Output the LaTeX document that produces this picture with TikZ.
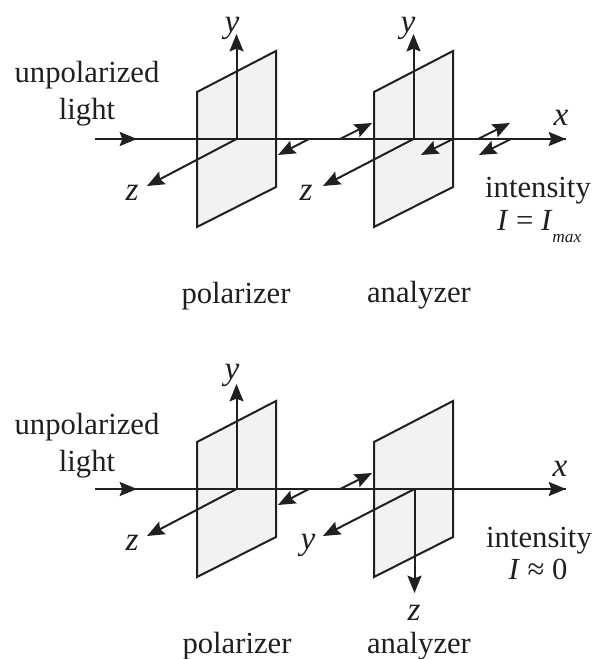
\documentclass[tikz,border=0pt]{standalone}
\usepackage{fontspec}
\setmainfont{Liberation Serif}
\usetikzlibrary{arrows.meta}
\definecolor{cline}{HTML}{231F20}
\definecolor{cplane}{HTML}{F1F3F2}
\tikzset{
  every picture/.style={line width=1.5pt},
  plane/.style={draw=cline, fill=cplane, line join=miter},
  axis/.style={draw=cline, line width=1.4pt},
  arrow/.style={-{Stealth[length=13pt, width=10.5pt, inset=2pt]}, draw=cline, line width=1.5pt},
  label/.style={font=\fontsize{23}{28}\selectfont, text=cline, inner sep=0pt, align=center, yshift=-2pt},
  axlabel/.style={label, font=\fontsize{25}{28}\selectfont\itshape, yshift=-0.5pt},
}

\begin{document}
\begin{tikzpicture}[x=0.75pt, y=-0.75pt]
  \useasboundingbox (0, 0) rectangle (595, 659);
  % top: analyzer parallel to polarizer
  \coordinate (tstart) at (95, 139);
  \coordinate (tmid) at (137, 139);
  \coordinate (tend) at (566, 139);
  \coordinate (to1) at (236.5, 139);
  \coordinate (ty1) at (236.5, 34);
  \coordinate (tz1) at (147, 186);
  \coordinate (to2) at (413.5, 139);
  \coordinate (ty2) at (413.5, 34);
  \coordinate (tz2) at (323, 186);
  \draw[plane] (197, 92) -- (276, 51) -- (276, 187) -- (197, 227) -- cycle;
  \draw[plane] (374, 92) -- (453, 51) -- (453, 187) -- (374, 227) -- cycle;
  \draw[axis] (tstart) -- (tend);
  \draw[arrow] (tstart) -- (tmid);
  \draw[arrow] (tmid) -- (tend);
  \draw[arrow] (to1) -- (ty1);
  \draw[arrow] (to1) -- (tz1);
  \draw[arrow] (to2) -- (ty2);
  \draw[arrow] (to2) -- (tz2);
  \draw[arrow] (309, 139) coordinate (ta1) -- (278, 155) coordinate (ta2);
  \draw[arrow] (340, 139) coordinate (ta3) -- (372, 123) coordinate (ta4);
  \draw[arrow] (453, 139) coordinate (ta5) -- (421, 155) coordinate (ta6);
  \draw[arrow] (478, 139) coordinate (ta7) -- (510, 123) coordinate (ta8);
  \draw[arrow] (511, 139) coordinate (ta9) -- (479, 155) coordinate (ta10);
  \node[label] (tlight) at (87, 91) {unpolarized\\light};
  \node[axlabel] (tyl1) at (232, 25) {y};
  \node[axlabel] (tzl1) at (132, 190) {z};
  \node[axlabel] (tyl2) at (408, 25) {y};
  \node[axlabel] (tzl2) at (306, 190) {z};
  \node[axlabel] (txl) at (561, 115) {x};
  \node[label] (tint) at (538, 188) {intensity};
  \node[label, anchor=west] (tform) at (496, 224) {\textit{I} = \textit{I}\raisebox{-9pt}{\fontsize{13}{13}\selectfont\textit{max}}};
  \node[label] (tpol) at (236, 293) {polarizer};
  \node[label] (tana) at (419, 293) {analyzer};
  % bottom: analyzer crossed with polarizer
  \coordinate (bstart) at (95, 489);
  \coordinate (bmid) at (137, 489);
  \coordinate (bend) at (566, 489);
  \coordinate (bo1) at (236.5, 489);
  \coordinate (by1) at (236.5, 384);
  \coordinate (bz1) at (147, 536);
  \coordinate (bo2) at (414.5, 489);
  \coordinate (by2) at (323, 536);
  \coordinate (bz2) at (414.5, 593);
  \draw[plane] (197, 442) -- (276, 401) -- (276, 537) -- (197, 577) -- cycle;
  \draw[plane] (374, 442) -- (453, 401) -- (453, 537) -- (374, 577) -- cycle;
  \draw[axis] (bstart) -- (bend);
  \draw[arrow] (bstart) -- (bmid);
  \draw[arrow] (bmid) -- (bend);
  \draw[arrow] (bo1) -- (by1);
  \draw[arrow] (bo1) -- (bz1);
  \draw[arrow] (bo2) -- (by2);
  \draw[arrow] (bo2) -- (bz2);
  \draw[arrow] (309, 489) coordinate (ba1) -- (278, 505) coordinate (ba2);
  \draw[arrow] (340, 489) coordinate (ba3) -- (372, 473) coordinate (ba4);
  \node[label] (blight) at (87, 443) {unpolarized\\light};
  \node[axlabel] (byl1) at (232, 372) {y};
  \node[axlabel] (bzl1) at (132, 540) {z};
  \node[axlabel] (byl2) at (308, 542) {y};
  \node[axlabel] (bzl2) at (414, 610) {z};
  \node[axlabel] (bxl) at (560, 466) {x};
  \node[label] (bint) at (539, 538) {intensity};
  \node[label] (bform) at (538, 567) {\textit{I} ≈ 0};
  \node[label] (bpol) at (237, 643) {polarizer};
  \node[label] (bana) at (419, 643) {analyzer};
\end{tikzpicture}
\end{document}
